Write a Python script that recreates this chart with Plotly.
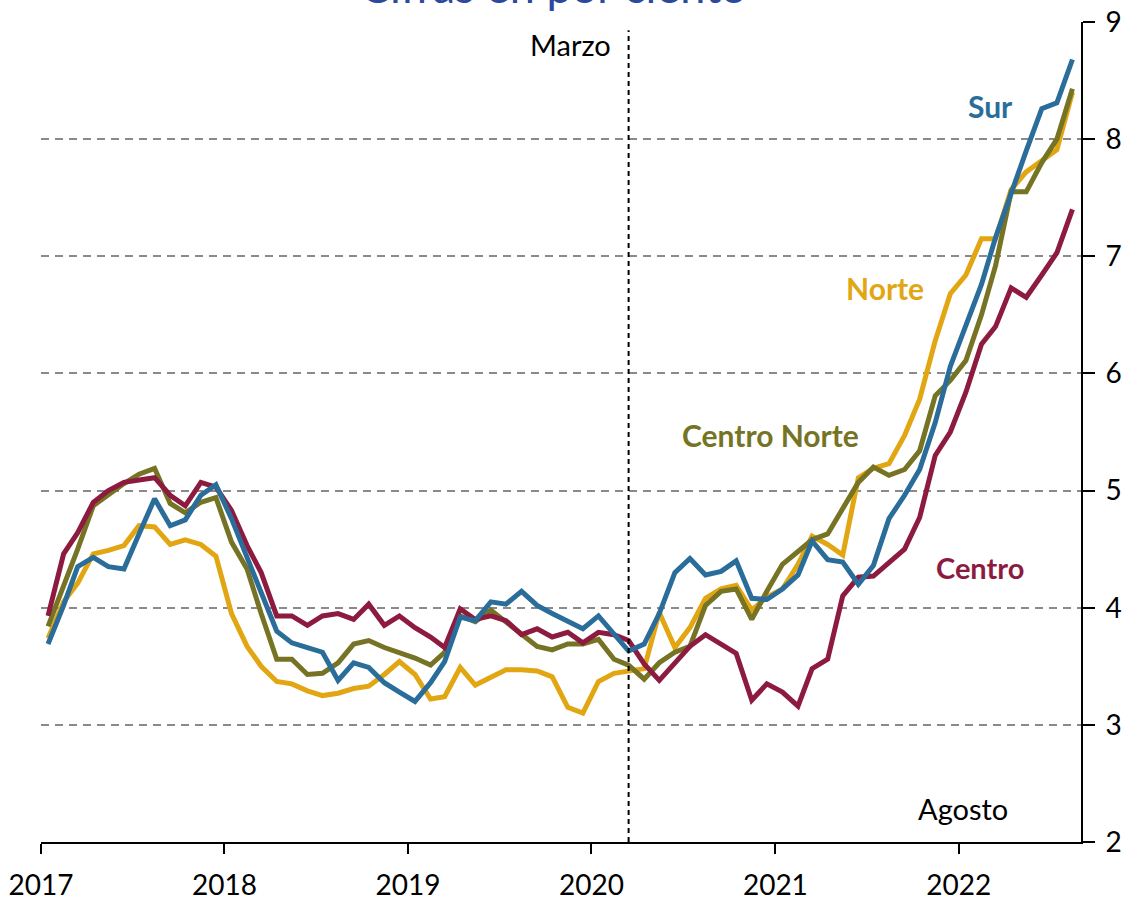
import pandas as pd
import plotly.graph_objects as go

# Monthly data, Jan 2017 - Aug 2022 (68 months)
months = pd.date_range("2017-01-01", periods=68, freq="MS") + pd.Timedelta(days=14)

sur = [3.69, 4.02, 4.35, 4.43, 4.35, 4.33, 4.63, 4.93, 4.70, 4.75, 4.96, 5.05,
       4.76, 4.44, 4.13, 3.80, 3.70, 3.66, 3.62, 3.38, 3.53, 3.49, 3.36, 3.28,
       3.20, 3.36, 3.54, 3.92, 3.89, 4.05, 4.03, 4.14, 4.02, 3.95, 3.88, 3.82,
       3.93, 3.77, 3.63, 3.69, 3.95, 4.30, 4.42, 4.28, 4.31, 4.40, 4.08, 4.07,
       4.16, 4.28, 4.57, 4.41, 4.39, 4.20, 4.36, 4.76, 4.96, 5.18, 5.58, 6.06,
       6.40, 6.76, 7.16, 7.55, 7.90, 8.26, 8.31, 8.68]

norte = [3.74, 4.05, 4.21, 4.46, 4.49, 4.53, 4.70, 4.69, 4.54, 4.58, 4.54, 4.44,
         3.95, 3.67, 3.50, 3.37, 3.35, 3.29, 3.25, 3.27, 3.31, 3.33, 3.43, 3.54,
         3.43, 3.22, 3.24, 3.49, 3.34, 3.41, 3.47, 3.47, 3.46, 3.41, 3.15, 3.10,
         3.37, 3.44, 3.46, 3.48, 3.96, 3.66, 3.83, 4.08, 4.16, 4.19, 3.98, 4.09,
         4.16, 4.37, 4.61, 4.54, 4.45, 5.11, 5.19, 5.23, 5.47, 5.78, 6.28, 6.68,
         6.84, 7.15, 7.15, 7.57, 7.72, 7.82, 7.91, 8.40]

centro_norte = [3.84, 4.18, 4.50, 4.87, 4.97, 5.06, 5.14, 5.19, 4.89, 4.81, 4.90, 4.94,
                4.56, 4.33, 3.95, 3.56, 3.56, 3.43, 3.44, 3.53, 3.69, 3.72, 3.66, 3.62,
                3.57, 3.51, 3.62, 3.93, 3.88, 3.98, 3.88, 3.77, 3.67, 3.64, 3.69, 3.69,
                3.73, 3.56, 3.51, 3.39, 3.53, 3.62, 3.67, 4.02, 4.14, 4.16, 3.90, 4.14,
                4.37, 4.48, 4.58, 4.63, 4.85, 5.07, 5.20, 5.13, 5.18, 5.34, 5.81, 5.94,
                6.11, 6.50, 6.92, 7.55, 7.55, 7.80, 8.00, 8.43]

centro = [3.93, 4.46, 4.64, 4.90, 5.00, 5.07, 5.09, 5.11, 4.96, 4.87, 5.07, 5.03,
          4.83, 4.53, 4.30, 3.93, 3.93, 3.85, 3.93, 3.95, 3.90, 4.03, 3.85, 3.93,
          3.83, 3.75, 3.66, 3.99, 3.90, 3.93, 3.89, 3.77, 3.82, 3.75, 3.79, 3.70,
          3.79, 3.77, 3.72, 3.52, 3.38, 3.53, 3.67, 3.77, 3.69, 3.61, 3.21, 3.35,
          3.28, 3.16, 3.48, 3.56, 4.10, 4.26, 4.27, 4.38, 4.50, 4.77, 5.30, 5.50,
          5.84, 6.25, 6.40, 6.73, 6.65, 6.84, 7.03, 7.40]

year_ticks = ["2017-01-01", "2018-01-01", "2019-01-01", "2020-01-01", "2021-01-01", "2022-01-01"]
year_labels = ["2017", "2018", "2019", "2020", "2021", "2022"]
y_ticks = [2, 3, 4, 5, 6, 7, 8, 9]

C_SUR = "#2A6D9A"
C_NORTE = "#E2A613"
C_CNORTE = "#767424"
C_CENTRO = "#8C1B3F"
FONT = "Lato"

fig = go.Figure()
for name, vals, col in [("Norte", norte, C_NORTE), ("Centro Norte", centro_norte, C_CNORTE),
                        ("Centro", centro, C_CENTRO), ("Sur", sur, C_SUR)]:
    fig.add_trace(go.Scatter(x=months, y=vals, mode="lines", name=name,
                             line=dict(color=col, width=5)))

# March 2020 reference line
fig.add_shape(type="line", xref="x", yref="y", x0="2020-03-15", x1="2020-03-15",
              y0=2, y1=8.93, line=dict(color="black", width=2, dash="5px,4px"))

def lab(text, x, y, color, size, bold=False):
    fig.add_annotation(text=f"<b>{text}</b>" if bold else text, xref="paper", yref="paper",
                       x=x, y=y, xanchor="center", yanchor="middle", showarrow=False,
                       font=dict(family=FONT, size=size, color=color))

lab("Sur", 0.9125, 0.897, C_SUR, 30, True)
lab("Norte", 0.8115, 0.675, C_NORTE, 30, True)
lab("Centro Norte", 0.701, 0.496, C_CNORTE, 30, True)
lab("Centro", 0.903, 0.335, C_CENTRO, 29, True)
lab("Marzo", 0.5087, 0.973, "black", 29)
lab("Agosto", 0.8865, 0.041, "black", 29)
lab("Cifras en por ciento", 0.492, 1.0443, "#2B4A9C", 45)

fig.update_layout(
    width=1132, height=897,
    margin=dict(l=41, r=51, t=22, b=55, autoexpand=False),
    paper_bgcolor="white", plot_bgcolor="white",
    showlegend=False,
    font=dict(family=FONT, size=28, color="black"),
    xaxis=dict(type="date", range=["2017-01-01", "2022-09-01"],
               tickvals=year_ticks, ticktext=year_labels,
               showgrid=False, zeroline=False, automargin=False,
               showline=True, linecolor="black", linewidth=2,
               ticks="outside", ticklen=10, tickwidth=1.5, tickcolor="black",
               ticklabelstandoff=7,
               tickfont=dict(family=FONT, size=28, color="black")),
    yaxis=dict(range=[2, 9], tickvals=y_ticks, side="right",
               showgrid=True, gridcolor="#8a8a8a", gridwidth=2, griddash="8px,6px",
               zeroline=False, automargin=False,
               showline=True, linecolor="black", linewidth=2,
               ticks="outside", ticklen=12, tickwidth=2, tickcolor="black",
               ticklabelstandoff=5,
               tickfont=dict(family=FONT, size=28, color="black")),
)

fig.write_html("out.html", config={"displayModeBar": False},
               post_script="document.body.style.margin='0';document.body.style.overflow='hidden';")
